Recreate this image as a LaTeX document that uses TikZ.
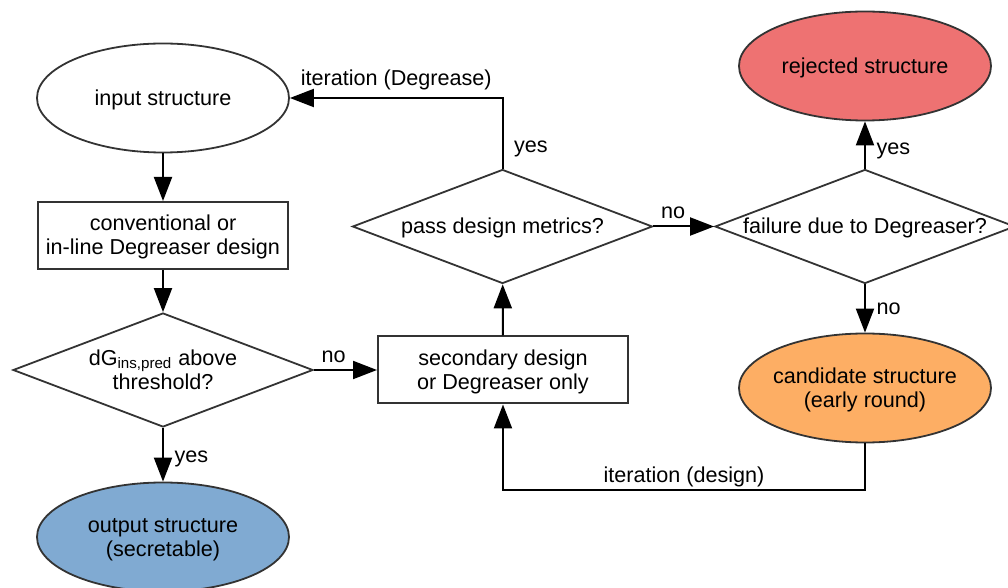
\documentclass[tikz,border=0pt]{standalone}
\usepackage{fontspec}
\setmainfont{Liberation Sans}
\usetikzlibrary{shapes.geometric}
\usetikzlibrary{arrows.meta}
\definecolor{rejectRed}{RGB}{238,114,114}
\definecolor{outBlue}{RGB}{128,170,210}
\definecolor{candOrange}{RGB}{253,174,100}
\definecolor{lineGray}{RGB}{51,51,51}
\newcommand{\inText}[1]{\makebox[0pt]{\raisebox{-1.2pt}[\height][\depth]{\begin{tabular}{@{}c@{}}#1\end{tabular}}}}
\tikzset{
  every node/.style={font=\fontsize{10.8}{12}\selectfont},
  term/.style={ellipse, draw=lineGray, line width=0.9pt, minimum width=126pt, minimum height=54.5pt, inner sep=0pt},
  proc/.style={rectangle, draw=lineGray, line width=1pt, minimum width=125pt, minimum height=33.5pt, inner sep=0pt},
  decide/.style={diamond, draw=lineGray, line width=0.9pt, minimum width=150pt, minimum height=57pt, inner sep=0pt},
  flow/.style={-{Triangle[length=12pt,width=9pt]}, line width=1pt, black},
  yeslabel/.style={right=2pt, yshift=-2pt}
}

\begin{document}
\begin{tikzpicture}[x=0.5pt,y=-0.5pt]
\useasboundingbox (0,0) rectangle (1008,588);

%Left column
\node[term] (input) at (163,98) {\inText{input structure}};
\node[proc] (conv) at (163,235.5) {\inText{conventional or\\in-line Degreaser design}};
\node[decide] (thresh) at (163,370) {\inText{dG\textsubscript{ins,pred} above\\threshold?}};
\node[term, fill=outBlue] (output) at (163,537) {\inText{output structure\\(secretable)}};

%Middle column
\node[proc] (second) at (503,370) {\inText{secondary design\\or Degreaser only}};
\node[decide] (metric) at (502.5,226.5) {\inText{pass design metrics?}};

%Right column
\node[decide] (fail) at (865,226.5) {\inText{failure due to Degreaser?}};
\node[term, fill=rejectRed] (reject) at (865,66) {\inText{rejected structure}};
\node[term, fill=candOrange] (cand) at (865,388) {\inText{candidate structure\\(early round)}};
\coordinate (back) at (865,490);

%Connectors
\draw[flow] (input) -- (conv);
\draw[flow] (conv) -- (thresh);
\draw[flow] (thresh) -- node[yeslabel] {yes} (output);
\draw[flow] (thresh) -- node[pos=0, above right] {no} (second);
\draw[flow] (second) -- (metric);
\draw[flow] (metric.north) |- node[pos=0.17, yeslabel] {yes} node[pos=0.75, above] {iteration (Degrease)} (input.east);
\draw[flow] (metric) -- node[pos=0, above right] {no} (fail);
\draw[flow] (fail) -- node[yeslabel, yshift=-1pt] {yes} (reject);
\draw[flow] (fail) -- node[right=2pt] {no} (cand);
\draw[flow] (cand.south) -- (back) -| node[pos=0.25, above, inner sep=1.2pt] {iteration (design)} (second.south);

\end{tikzpicture}
\end{document}
